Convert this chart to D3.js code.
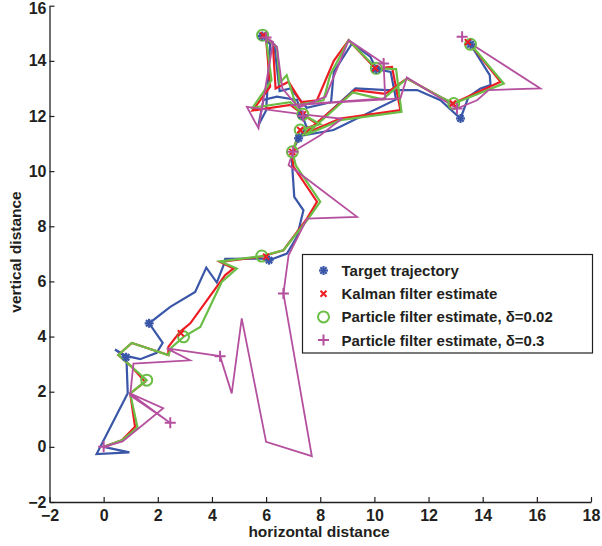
<!DOCTYPE html>
<html>
<head>
<meta charset="utf-8">
<script src="https://cdn.jsdelivr.net/npm/d3@7"></script>
<style>
  body { margin: 0; background: #fff; }
  text { font-family: "Liberation Sans", Arial, sans-serif; font-weight: bold; fill: #231f20; }
</style>
</head>
<body>
<script>
var w = 602, h = 546;

// axis ticks
var xTicks = [-2, 0, 2, 4, 6, 8, 10, 12, 14, 16, 18];
var yTicks = [-2, 0, 2, 4, 6, 8, 10, 12, 14, 16];

// target trajectory
var target = [[0,0],[0.95,-0.2],[-0.26,-0.26],[0.89,1.94],[0.85,3.0],[0.83,3.25],[0.42,3.53],[0.83,3.3],
  [1.35,3.18],[1.96,3.41],[2.18,3.77],[1.68,4.48],[2.46,5.08],[3.38,5.62],[3.79,6.5],[4.18,5.96],
  [4.43,6.59],[4.49,6.82],[6.03,6.83],[6.11,6.77],[6.77,7.01],[7.14,7.62],[7.38,8.58],[7.04,9.07],
  [6.95,10.4],[6.99,10.74],[7.2,11.19],[7.5,11.6],[7.32,12.03],[7.14,12.58],[6.4,12.7],[5.9,12.58],
  [5.72,11.67],[6.0,12.2],[6.15,14.6],[5.86,14.9],[6.3,14.6],[6.5,12.9],[6.9,13.0],[7.5,12.3],
  [8.4,12.5],[8.5,13.6],[9.17,14.63],[9.85,14.15],[10.07,13.7],[10.6,13.6],[10.8,12.6],[8.49,11.49],
  [7.4,11.3],[9.3,13.0],[10.47,12.94],[11.58,12.94],[12.44,12.57],[13.18,11.91],[13.48,12.7],
  [13.92,13.0],[14.29,13.12],[14.26,13.48],[13.55,14.6]];
var targetMarks = [[0.83,3.25],[1.68,4.48],[6.11,6.77],[7.2,11.19],[7.32,12.03],[5.86,14.9],[10.07,13.7],[13.18,11.91],[13.55,14.6]];

// Kalman filter estimate
var kalman = [[0,0],[0.67,0.24],[1.16,0.73],[0.98,1.94],[1.53,2.36],[1.04,2.9],[0.54,3.33],[1.04,3.77],
  [2.39,3.33],[2.39,3.63],[2.82,4.17],[3.2,4.48],[4.49,6.23],[4.8,6.47],[4.3,6.71],[5.78,6.89],
  [6.64,7.13],[7.51,8.28],[7.88,8.89],[7.01,10.16],[6.95,10.64],[7.26,11.49],[7.9,11.7],[7.36,12.06],
  [6.9,12.4],[5.5,12.2],[6.15,13.06],[6.0,14.8],[5.9,14.93],[6.25,14.6],[6.35,13.0],[6.83,13.24],
  [7.3,12.5],[7.88,12.57],[8.5,14.0],[9.05,14.75],[10.03,13.73],[10.65,13.78],[10.96,12.21],
  [8.74,11.91],[7.4,11.35],[9.29,12.94],[10.4,12.8],[11.2,13.36],[12.44,12.69],[12.9,12.45],
  [14.66,13.24],[13.5,14.65]];
var kalmanMarks = [[2.85,4.12],[6.0,6.9],[6.97,10.7],[7.26,11.49],[7.36,12.06],[5.9,14.93],[10.03,13.73],[12.9,12.45],[13.45,14.68]];

// particle filter, delta = 0.02
var pf002 = [[0,0],[0.67,0.24],[1.25,0.7],[0.98,1.94],[1.59,2.42],[1.04,2.9],[0.54,3.33],[1.04,3.77],
  [2.39,3.33],[2.5,3.6],[2.95,3.99],[3.57,4.35],[4.36,5.98],[4.92,6.47],[4.3,6.73],[5.84,6.92],
  [6.64,7.13],[7.5,8.2],[8.0,8.89],[7.1,10.2],[6.97,10.7],[7.26,11.49],[8.0,11.7],[7.36,12.06],
  [6.9,12.5],[5.5,12.3],[6.2,13.3],[6.0,14.8],[5.87,14.93],[6.4,14.5],[6.5,13.2],[6.76,13.48],
  [7.1,12.4],[8.12,12.57],[8.37,13.5],[9.05,14.75],[10.07,13.73],[10.8,13.7],[11.0,12.15],
  [8.74,11.85],[7.45,11.3],[9.2,12.85],[10.3,12.6],[11.2,13.36],[12.44,12.69],[12.93,12.45],
  [14.78,13.18],[13.55,14.6]];
var pf002Marks = [[1.59,2.42],[2.95,3.99],[5.84,6.92],[6.97,10.7],[7.26,11.49],[7.36,12.06],[5.87,14.93],[10.07,13.73],[12.93,12.45],[13.55,14.6]];

// particle filter, delta = 0.3
var pf03 = [[0,0],[0.7,0.2],[2.2,1.4],[0.95,1.95],[2.46,0.87],[0.98,1.87],[1.1,3.02],[3.19,3.14],
  [2.33,3.57],[4.3,3.29],[4.73,1.94],[5.1,4.66],[6.0,0.18],[7.69,-0.34],[6.64,5.56],[6.83,6.95],
  [7.51,8.28],[9.36,8.34],[6.83,10.22],[6.99,10.7],[8.0,11.3],[8.8,11.9],[7.36,12.06],[5.29,12.33],
  [5.72,11.55],[6.26,14.69],[6.0,14.85],[6.4,14.5],[6.6,13.0],[7.2,12.3],[8.2,12.7],[9.05,14.75],
  [10.34,13.9],[10.4,12.64],[6.89,12.39],[10.96,12.64],[11.2,13.4],[13.05,12.27],[13.79,12.57],
  [14.22,12.94],[16.13,13.0],[13.55,14.63]];
var pf03Marks = [[0,0],[2.46,0.87],[4.3,3.29],[6.64,5.56],[6.99,10.7],[7.36,12.0],[6.0,14.85],[10.34,13.9],[13.05,12.27],[13.24,14.87]];

var colors = { blue: "#3a56a8", red: "#ed1c24", green: "#6bbe45", magenta: "#b5509f" };

var xScale = d3.scaleLinear().domain([-2, 18]).range([49.5, 591]);
var yScale = d3.scaleLinear().domain([-2, 16]).range([502, 5.7]);

var svg = d3.select("body").append("svg")
  .attr("width", w)
  .attr("height", h);

var line = d3.line()
  .x(function(d) { return xScale(d[0]); })
  .y(function(d) { return yScale(d[1]); });

// the four paths
var series = [
  { data: target, color: colors.blue, width: 2.2 },
  { data: kalman, color: colors.red, width: 2.2 },
  { data: pf002, color: colors.green, width: 2.2 },
  { data: pf03, color: colors.magenta, width: 1.8 }
];
series.forEach(function(s) {
  svg.append("path")
    .datum(s.data)
    .attr("d", line)
    .attr("fill", "none")
    .attr("stroke", s.color)
    .attr("stroke-width", s.width)
    .attr("stroke-linejoin", "miter");
});

// marker shapes
function star(g, color) {
  [0, 45, 90, 135].forEach(function(a) {
    g.append("line").attr("x1", -4.5).attr("x2", 4.5).attr("y1", 0).attr("y2", 0)
      .attr("transform", "rotate(" + a + ")")
      .attr("stroke", color).attr("stroke-width", 2.2);
  });
}
function cross(g, color) {
  g.append("path").attr("d", "M-3,-3L3,3M-3,3L3,-3").attr("stroke", color).attr("stroke-width", 2);
}
function circle(g, color) {
  g.append("circle").attr("r", 5.5).attr("fill", "none").attr("stroke", color).attr("stroke-width", 2);
}
function plus(g, color) {
  g.append("path").attr("d", "M-5.5,0L5.5,0M0,-5.5L0,5.5").attr("stroke", color).attr("stroke-width", 2);
}

function addMarks(data, fn, color) {
  svg.append("g").selectAll("g")
    .data(data)
    .enter()
    .append("g")
    .attr("transform", function(d) { return "translate(" + xScale(d[0]) + "," + yScale(d[1]) + ")"; })
    .each(function() { fn(d3.select(this), color); });
}
addMarks(pf002Marks, circle, colors.green);
addMarks(targetMarks, star, colors.blue);
addMarks(kalmanMarks, cross, colors.red);
addMarks(pf03Marks, plus, colors.magenta);

// axes (ticks inside, no box)
var fmt = function(d) { return d < 0 ? "\u2212" + Math.abs(d) : d; };
var xAxis = d3.axisBottom(xScale).tickValues(xTicks).tickSizeInner(-5).tickSizeOuter(0).tickPadding(8).tickFormat(fmt);
var yAxis = d3.axisLeft(yScale).tickValues(yTicks).tickSizeInner(-5).tickSizeOuter(0).tickPadding(3).tickFormat(fmt);

var gx = svg.append("g").attr("transform", "translate(0," + yScale(-2) + ")").call(xAxis);
var gy = svg.append("g").attr("transform", "translate(" + xScale(-2) + ",0)").call(yAxis);
[gx, gy].forEach(function(g) {
  g.select(".domain").attr("stroke", "#231f20").attr("stroke-width", 1.3);
  g.selectAll(".tick line").attr("stroke", "#231f20").attr("stroke-width", 1.2);
  g.selectAll(".tick text").attr("font-size", 16).attr("font-family", "Liberation Sans, Arial, sans-serif")
    .attr("font-weight", "bold").attr("fill", "#231f20");
});
// keep the top label inside the picture
gy.selectAll(".tick text").filter(function(d) { return d === 16; }).attr("dy", "0.5em");

svg.append("text")
  .attr("x", 319).attr("y", 537)
  .attr("text-anchor", "middle")
  .attr("font-size", 15.5)
  .text("horizontal distance");

svg.append("text")
  .attr("transform", "translate(21,252) rotate(-90)")
  .attr("text-anchor", "middle")
  .attr("font-size", 15.5)
  .text("vertical distance");

// legend
var legend = svg.append("g");
legend.append("rect")
  .attr("x", 302.5).attr("y", 254.5).attr("width", 290).attr("height", 98.5)
  .attr("fill", "#fff").attr("stroke", "#231f20").attr("stroke-width", 1.2);

var legendItems = [
  { label: "Target trajectory", fn: star, color: colors.blue },
  { label: "Kalman filter estimate", fn: cross, color: colors.red },
  { label: "Particle filter estimate, \u03b4=0.02", fn: circle, color: colors.green },
  { label: "Particle filter estimate, \u03b4=0.3", fn: plus, color: colors.magenta }
];
legendItems.forEach(function(it, i) {
  var y = 270.5 + i * 23.2;
  var g = legend.append("g").attr("transform", "translate(323.5," + y + ")");
  it.fn(g, it.color);
  legend.append("text")
    .attr("x", 341.5).attr("y", y + 5.5)
    .attr("font-size", 15)
    .text(it.label);
});
</script>
</body>
</html>
